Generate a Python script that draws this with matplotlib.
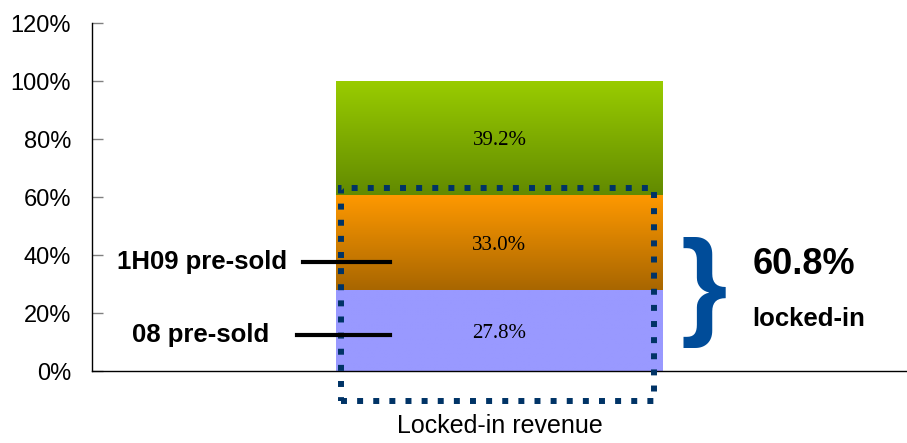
import matplotlib.pyplot as plt
import numpy as np
from matplotlib.font_manager import FontProperties, findfont
from matplotlib.patches import Rectangle


def pick_font(candidates, stretch="normal"):
    # first family that is really installed, else plain DejaVu Sans
    for name in candidates:
        try:
            findfont(FontProperties(family=name, stretch=stretch), fallback_to_default=False)
            return name
        except ValueError:
            continue
    return "DejaVu Sans"


narrow = pick_font(["Liberation Sans Narrow", "Arial Narrow", "DejaVu Sans Condensed",
                    "Liberation Sans"])
narrow_serif = pick_font(["DejaVu Serif Condensed", "Liberation Serif"])
bold_sans = ["Liberation Sans", "DejaVu Sans"]

plt.rcParams["font.family"] = [narrow, "DejaVu Sans"]

# stacked shares of revenue, bottom to top
segments = ["08 pre-sold", "1H09 pre-sold", "open"]
shares = [27.8, 33.0, 39.2]
locked_in = 60.8
category = "Locked-in revenue"
yticks = [0, 20, 40, 60, 80, 100, 120]

# (top colour, bottom colour) for each segment
colors = [
    ((153, 153, 255), (153, 153, 255)),
    ((255, 153, 0), (168, 102, 0)),
    ((153, 204, 0), (98, 138, 0)),
]

fig = plt.figure(figsize=(9.07, 4.43), dpi=100)
ax = fig.add_axes([0.1014, 0.1625, 0.8986, 0.7855])

bar_x = 0.0
bar_w = 0.4
bottoms = np.concatenate([[0], np.cumsum(shares)[:-1]]) / 100

for share, bot, (top_c, bot_c) in zip(shares, bottoms, colors):
    h = share / 100
    grad = np.linspace(np.array(top_c), np.array(bot_c), 128)[:, None, :] / 255
    ax.imshow(grad, extent=[bar_x - bar_w / 2, bar_x + bar_w / 2, bot, bot + h],
              aspect="auto", interpolation="bilinear", zorder=2)
    ax.text(bar_x, bot + h / 2 - 0.01, f"{share:.1f}%", ha="center", va="center",
            fontsize=15, family=[narrow_serif, "DejaVu Serif"], zorder=5)

# dotted frame around the locked-in part
frame_top = locked_in / 100 + 0.022
frame = Rectangle((bar_x - bar_w / 2 + 0.005, -0.103), bar_w - 0.016, frame_top + 0.103,
                  fill=False, edgecolor="#003366", linewidth=4.3,
                  linestyle=(0, (1, 1.7)), clip_on=False, zorder=4)
ax.add_patch(frame)

# segment call-outs on the left
ax.plot([-0.241, -0.134], [0.376, 0.376], color="black", lw=3, clip_on=False, zorder=6)
ax.plot([-0.248, -0.134], [0.124, 0.124], color="black", lw=3, clip_on=False, zorder=6)
ax.text(-0.261, 0.376, segments[1], ha="right", va="center", fontsize=18.5,
        fontweight="bold", family=bold_sans)
ax.text(-0.282, 0.124, segments[0], ha="right", va="center", fontsize=18.5,
        fontweight="bold", family=bold_sans)

# brace and total on the right
ax.text(0.222, 0.272, "}", ha="left", va="center", fontsize=86, color="#004C99",
        fontweight="bold", family=bold_sans)
ax.text(0.31, 0.366, f"{locked_in:.1f}%", ha="left", va="center", fontsize=26,
        fontweight="bold", family=bold_sans)
ax.text(0.31, 0.179, "locked-in", ha="left", va="center", fontsize=18.5,
        fontweight="bold", family=bold_sans)

ax.set_xlim(-0.5, 0.5)
ax.set_ylim(0, 1.2)
ax.set_yticks([t / 100 for t in yticks])
ax.set_yticklabels([f"{t}%" for t in yticks], fontsize=17)
ax.tick_params(axis="y", direction="in", length=8, width=1, color="#808080", pad=15)
ax.set_xticks([bar_x])
ax.set_xticklabels([category], fontsize=18)
ax.tick_params(axis="x", length=0, pad=31)
for s in ["top", "right"]:
    ax.spines[s].set_visible(False)
ax.spines["left"].set_linewidth(1)
ax.spines["bottom"].set_linewidth(1)

fig.savefig("out.png", dpi=100)
